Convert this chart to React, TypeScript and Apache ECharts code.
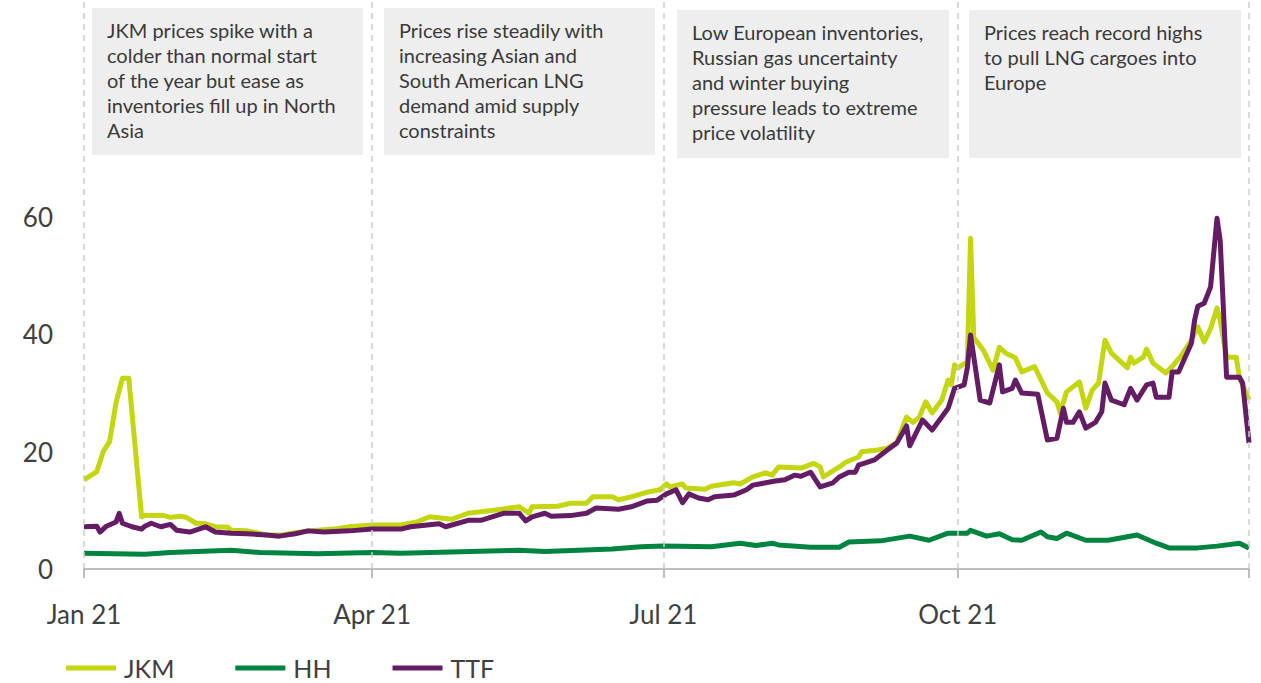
import React, { useEffect, useRef } from "react";
import * as echarts from "echarts";

const JKM: [string, number][] = [
  ["2021-01-01", 15.2], ["2021-01-05", 16.6], ["2021-01-07", 20], ["2021-01-09", 21.7], ["2021-01-11", 28.3],
  ["2021-01-13", 32.5], ["2021-01-15", 32.5], ["2021-01-19", 8.9], ["2021-01-20", 9.1], ["2021-01-26", 9.1],
  ["2021-01-28", 8.8], ["2021-01-31", 9.0], ["2021-02-02", 8.8], ["2021-02-05", 7.8], ["2021-02-08", 7.7],
  ["2021-02-11", 7.2], ["2021-02-15", 7.1], ["2021-02-16", 6.6], ["2021-02-21", 6.5], ["2021-02-24", 6.2],
  ["2021-02-27", 5.8], ["2021-03-04", 5.8], ["2021-03-07", 6.1], ["2021-03-12", 6.5], ["2021-03-20", 6.8],
  ["2021-03-25", 7.2], ["2021-04-01", 7.5], ["2021-04-10", 7.5], ["2021-04-15", 8.0], ["2021-04-19", 8.9],
  ["2021-04-26", 8.5], ["2021-05-01", 9.5], ["2021-05-09", 10.0], ["2021-05-17", 10.6], ["2021-05-20", 9.5],
  ["2021-05-21", 10.6], ["2021-05-29", 10.7], ["2021-06-02", 11.2], ["2021-06-07", 11.2], ["2021-06-09", 12.3],
  ["2021-06-15", 12.3], ["2021-06-17", 11.8], ["2021-06-21", 12.3], ["2021-06-26", 13.1], ["2021-06-30", 13.5],
  ["2021-07-02", 14.5], ["2021-07-03", 14.0], ["2021-07-07", 14.5], ["2021-07-08", 13.8], ["2021-07-14", 13.6],
  ["2021-07-16", 14.1], ["2021-07-23", 14.7], ["2021-07-25", 14.5], ["2021-07-29", 15.7], ["2021-08-02", 16.4],
  ["2021-08-04", 16.0], ["2021-08-06", 17.4], ["2021-08-13", 17.2], ["2021-08-17", 18.0], ["2021-08-19", 17.4],
  ["2021-08-20", 15.7], ["2021-08-25", 17.4], ["2021-08-27", 18.2], ["2021-08-31", 19.1], ["2021-09-01", 20.0],
  ["2021-09-06", 20.3], ["2021-09-09", 20.6], ["2021-09-12", 21.6], ["2021-09-15", 25.9], ["2021-09-17", 25.0],
  ["2021-09-19", 25.9], ["2021-09-21", 28.5], ["2021-09-23", 26.6], ["2021-09-26", 28.8], ["2021-09-28", 32.2],
  ["2021-09-29", 31.4], ["2021-09-30", 34.8], ["2021-10-01", 34.3], ["2021-10-04", 35.3], ["2021-10-05", 56.4],
  ["2021-10-06", 39.5], ["2021-10-08", 38.0], ["2021-10-09", 37.3], ["2021-10-12", 33.9], ["2021-10-14", 37.8],
  ["2021-10-16", 36.8], ["2021-10-19", 36.0], ["2021-10-21", 33.6], ["2021-10-25", 34.5], ["2021-10-29", 30.0],
  ["2021-11-01", 28.5], ["2021-11-02", 26.6], ["2021-11-04", 30.2], ["2021-11-08", 31.9], ["2021-11-10", 27.4],
  ["2021-11-12", 30.5], ["2021-11-14", 31.7], ["2021-11-16", 39.0], ["2021-11-18", 36.8], ["2021-11-23", 34.3],
  ["2021-11-24", 36.1], ["2021-11-25", 35.1], ["2021-11-28", 36.1], ["2021-11-29", 37.5], ["2021-12-01", 35.1],
  ["2021-12-05", 33.4], ["2021-12-07", 34.5], ["2021-12-10", 36.5], ["2021-12-13", 39.0], ["2021-12-15", 41.3],
  ["2021-12-17", 38.7], ["2021-12-19", 41.0], ["2021-12-21", 44.5], ["2021-12-22", 42.4], ["2021-12-24", 36.1],
  ["2021-12-27", 36.1], ["2021-12-28", 32.7], ["2021-12-31", 28.8],
];

const HH: [string, number][] = [
  ["2021-01-01", 2.7], ["2021-01-20", 2.5], ["2021-01-28", 2.8], ["2021-02-16", 3.2], ["2021-02-25", 2.8],
  ["2021-03-15", 2.6], ["2021-04-01", 2.8], ["2021-04-10", 2.7], ["2021-05-17", 3.2], ["2021-05-25", 3.0],
  ["2021-06-15", 3.4], ["2021-06-24", 3.8], ["2021-07-01", 3.9], ["2021-07-16", 3.8], ["2021-07-25", 4.4],
  ["2021-07-30", 4.0], ["2021-08-04", 4.4], ["2021-08-06", 4.1], ["2021-08-16", 3.7], ["2021-08-25", 3.7],
  ["2021-08-28", 4.6], ["2021-09-07", 4.8], ["2021-09-16", 5.6], ["2021-09-22", 4.9], ["2021-09-28", 6.1],
  ["2021-10-04", 6.1], ["2021-10-05", 6.6], ["2021-10-10", 5.6], ["2021-10-14", 6.0], ["2021-10-18", 5.0],
  ["2021-10-21", 4.9], ["2021-10-27", 6.3], ["2021-10-29", 5.5], ["2021-11-01", 5.2], ["2021-11-04", 6.1],
  ["2021-11-10", 4.9], ["2021-11-17", 4.9], ["2021-11-26", 5.8], ["2021-12-02", 4.4], ["2021-12-06", 3.6],
  ["2021-12-15", 3.6], ["2021-12-21", 3.9], ["2021-12-28", 4.4], ["2021-12-31", 3.6],
];

const TTF: [string, number][] = [
  ["2021-01-01", 7.2], ["2021-01-05", 7.3], ["2021-01-06", 6.3], ["2021-01-08", 7.3], ["2021-01-11", 8.0],
  ["2021-01-12", 9.5], ["2021-01-13", 7.8], ["2021-01-16", 7.2], ["2021-01-19", 6.8], ["2021-01-20", 7.3],
  ["2021-01-22", 7.8], ["2021-01-25", 7.2], ["2021-01-28", 7.6], ["2021-01-30", 6.6], ["2021-02-03", 6.3],
  ["2021-02-08", 7.2], ["2021-02-11", 6.3], ["2021-02-16", 6.1], ["2021-02-21", 6.0], ["2021-02-27", 5.8],
  ["2021-03-03", 5.6], ["2021-03-08", 6.0], ["2021-03-12", 6.5], ["2021-03-17", 6.3], ["2021-03-25", 6.5],
  ["2021-04-01", 6.8], ["2021-04-10", 6.8], ["2021-04-13", 7.2], ["2021-04-22", 7.7], ["2021-04-24", 7.2],
  ["2021-05-01", 8.3], ["2021-05-05", 8.3], ["2021-05-12", 9.5], ["2021-05-17", 9.5], ["2021-05-19", 8.2],
  ["2021-05-21", 8.9], ["2021-05-25", 9.5], ["2021-05-27", 9.0], ["2021-06-02", 9.1], ["2021-06-07", 9.5],
  ["2021-06-10", 10.4], ["2021-06-17", 10.2], ["2021-06-21", 10.6], ["2021-06-26", 11.6], ["2021-06-29", 11.7],
  ["2021-07-02", 12.8], ["2021-07-05", 13.5], ["2021-07-07", 11.3], ["2021-07-09", 12.8], ["2021-07-12", 12.1],
  ["2021-07-15", 11.8], ["2021-07-17", 12.3], ["2021-07-23", 12.6], ["2021-07-27", 13.5], ["2021-07-29", 14.3],
  ["2021-08-02", 14.7], ["2021-08-05", 15.0], ["2021-08-08", 15.2], ["2021-08-11", 16.0], ["2021-08-13", 15.8],
  ["2021-08-16", 16.5], ["2021-08-19", 14.0], ["2021-08-23", 14.7], ["2021-08-25", 15.7], ["2021-08-28", 16.5],
  ["2021-08-30", 16.5], ["2021-08-31", 17.7], ["2021-09-05", 18.6], ["2021-09-09", 20.3], ["2021-09-12", 21.5],
  ["2021-09-15", 24.4], ["2021-09-16", 21.0], ["2021-09-18", 23.2], ["2021-09-20", 25.4], ["2021-09-23", 23.7],
  ["2021-09-26", 25.9], ["2021-09-28", 27.4], ["2021-09-30", 30.8], ["2021-10-03", 31.4], ["2021-10-04", 34.3],
  ["2021-10-05", 39.9], ["2021-10-08", 28.8], ["2021-10-11", 28.3], ["2021-10-14", 34.8], ["2021-10-15", 30.2],
  ["2021-10-18", 30.8], ["2021-10-19", 32.2], ["2021-10-21", 30.0], ["2021-10-26", 29.8], ["2021-10-29", 22.0],
  ["2021-11-01", 22.3], ["2021-11-03", 27.4], ["2021-11-04", 25.0], ["2021-11-06", 25.0], ["2021-11-08", 26.8],
  ["2021-11-10", 24.0], ["2021-11-13", 25.0], ["2021-11-15", 26.8], ["2021-11-16", 31.7], ["2021-11-18", 28.8],
  ["2021-11-22", 28.0], ["2021-11-24", 30.8], ["2021-11-26", 28.8], ["2021-11-29", 31.4], ["2021-12-01", 31.7],
  ["2021-12-02", 29.3], ["2021-12-06", 29.3], ["2021-12-07", 33.6], ["2021-12-09", 33.6], ["2021-12-13", 38.5],
  ["2021-12-14", 42.4], ["2021-12-15", 44.8], ["2021-12-17", 45.3], ["2021-12-19", 48.1], ["2021-12-21", 59.8],
  ["2021-12-22", 56.0], ["2021-12-24", 32.7], ["2021-12-28", 32.7], ["2021-12-29", 31.7], ["2021-12-31", 21.5],
];

const SERIES_NAMES = ["JKM", "HH", "TTF"];
const SERIES_COLORS = ["#c3d60f", "#00843f", "#641c64"];
const Y_TICK_LABELS = [0, 20, 40, 60];
const X_TICK_DATES = ["2021-01-01", "2021-04-01", "2021-07-01", "2021-10-01", "2021-12-31"];
const X_LABEL_DATES = ["2021-01-01", "2021-04-01", "2021-07-01", "2021-10-01"];
const X_LABELS = ["Jan 21", "Apr 21", "Jul 21", "Oct 21"];

const ANNOTATIONS: string[][] = [
  ["JKM prices spike with a", "colder than normal start", "of the year but ease as", "inventories fill up in North", "Asia"],
  ["Prices rise steadily with", "increasing Asian and", "South American LNG", "demand amid supply", "constraints"],
  ["Low European inventories,", "Russian gas uncertainty", "and winter buying", "pressure leads to extreme", "price volatility"],
  ["Prices reach record highs", "to pull LNG cargoes into", "Europe"],
];

const FONT = "Lato, 'Noto Sans', sans-serif";

// day of year (0 = 1 Jan 2021)
const doy = (s: string) => {
  const [y, m, d] = s.split("-").map(Number);
  return Math.round((Date.UTC(y, m - 1, d) - Date.UTC(2021, 0, 1)) / 86400000);
};

export default function App() {
  const ref = useRef<HTMLDivElement>(null);

  useEffect(() => {
    document.body.style.margin = "0";
    if (!ref.current) return;
    const chart = echarts.init(ref.current, undefined, { renderer: "svg" });

    const tickDays = X_TICK_DATES.map(doy);
    const labelDays = X_LABEL_DATES.map(doy);
    const seriesData = [JKM, HH, TTF];

    const boxes = [
      { x: 92, y: 8, w: 271, h: 147 },
      { x: 384, y: 8, w: 271, h: 147 },
      { x: 677, y: 10, w: 272, h: 148 },
      { x: 969, y: 10, w: 272, h: 148 },
    ];
    const graphic: any[] = [];
    boxes.forEach((b, i) => {
      graphic.push({
        type: "rect",
        x: b.x,
        y: b.y,
        z: 10,
        shape: { x: 0, y: 0, width: b.w, height: b.h },
        style: { fill: "#eeeeee" },
        silent: true,
      });
      graphic.push({
        type: "text",
        x: b.x + 15,
        y: b.y + 9,
        z: 11,
        style: {
          text: ANNOTATIONS[i].join("\n"),
          fontSize: 20,
          lineHeight: 25,
          fill: "#3a3a3a",
          fontFamily: FONT,
        },
        silent: true,
      });
    });

    chart.setOption({
      animation: false,
      backgroundColor: "#ffffff",
      grid: { left: 84, right: 12, top: 0, bottom: 114, containLabel: false },
      legend: {
        data: SERIES_NAMES,
        left: 66,
        top: 653,
        padding: 0,
        icon: "rect",
        itemWidth: 50,
        itemHeight: 5,
        itemGap: 61,
        textStyle: { fontSize: 25, lineHeight: 30, color: "#404040", fontFamily: FONT, padding: [0, 0, 0, 3] },
      },
      xAxis: {
        type: "value",
        min: tickDays[0],
        max: tickDays[tickDays.length - 1],
        axisLine: { show: true, lineStyle: { color: "#a8a8a8", width: 1.5 } },
        axisTick: {
          show: true,
          length: 9,
          customValues: tickDays,
          lineStyle: { color: "#a8a8a8", width: 1.5 },
        },
        axisLabel: {
          customValues: labelDays,
          formatter: (v: number) => {
            const i = labelDays.indexOf(Math.round(v));
            return i >= 0 ? X_LABELS[i] : "";
          },
          fontSize: 26,
          color: "#404040",
          fontFamily: FONT,
          margin: 32,
        },
        splitLine: { show: false },
      },
      yAxis: {
        type: "value",
        min: 0,
        max: 97,
        interval: 20,
        axisLine: { show: false },
        axisTick: { show: false },
        splitLine: { show: false },
        axisLabel: {
          formatter: (v: number) => (Y_TICK_LABELS.includes(v) ? String(v) : ""),
          fontSize: 26,
          color: "#404040",
          fontFamily: FONT,
          margin: 31,
        },
      },
      series: SERIES_NAMES.map((name, i) => ({
        name,
        type: "line",
        showSymbol: false,
        symbol: "none",
        color: SERIES_COLORS[i],
        lineStyle: { width: 5, color: SERIES_COLORS[i], join: "round" },
        data: seriesData[i].map(([d, v]) => [doy(d), v]),
        z: i === 1 ? 2 : i === 0 ? 3 : 4,
        markLine:
          i === 1
            ? {
                silent: true,
                symbol: ["none", "none"],
                label: { show: false },
                lineStyle: { type: [6, 5], color: "#cdcdcd", width: 1.5 },
                data: tickDays.map((t) => ({ xAxis: t })),
              }
            : undefined,
      })),
      graphic,
    });

    return () => chart.dispose();
  }, []);

  return <div ref={ref} style={{ width: 1261, height: 683 }} />;
}
